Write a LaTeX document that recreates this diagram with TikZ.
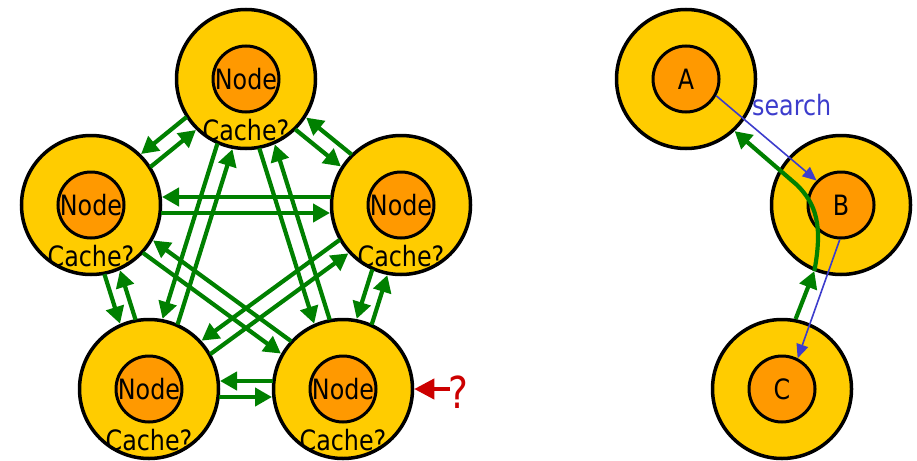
\documentclass[tikz,border=0pt]{standalone}
\usepackage{fontspec}
\setmainfont{DejaVu Sans}[FakeStretch=0.85]
\usetikzlibrary{arrows.meta,calc}
\definecolor{ringY}{RGB}{255,204,0}
\definecolor{coreO}{RGB}{255,153,0}
\definecolor{gArr}{RGB}{0,128,0}
\definecolor{bArr}{RGB}{60,60,204}
\definecolor{rArr}{RGB}{204,0,0}
\tikzset{
  outerring/.style={circle, draw=black, line width=3.5pt, fill=ringY, minimum size=139pt, inner sep=0pt},
  innercore/.style={circle, draw=black, line width=3pt, fill=coreO, minimum size=66pt, inner sep=0pt},
  lbl/.style={font=\fontsize{28}{32}\selectfont, inner sep=0pt},
  garrow/.style={line width=4.2pt, draw=gArr, -{Triangle[length=17pt,width=18pt]}},
  gpairarrow/.style={garrow, shorten <=70pt, shorten >=71pt},
  barrow/.style={line width=1.6pt, draw=bArr, -{Triangle[length=14pt,width=12pt]}},
  rarrow/.style={line width=4pt, draw=rArr, -{Triangle[length=20pt,width=20pt]}}
}
\newcommand\gpair[2]{%
  \draw[gpairarrow] ($(#1.center)!8pt!-90:(#2.center)$) -- ($(#2.center)!8pt!90:(#1.center)$);
  \draw[gpairarrow] ($(#2.center)!8pt!-90:(#1.center)$) -- ($(#1.center)!8pt!90:(#2.center)$);
}
\begin{document}
\begin{tikzpicture}[x=1pt,y=-1pt]
\useasboundingbox (0,0) rectangle (917,460);
% left cluster
\foreach \n/\x/\y in {T/246/79, L/91/205, R/401/205, BL/149/389, BR/343/389}{
  \node[outerring] (\n) at (\x,\y) {};
  \node[innercore] (\n i) at (\x,\y) {};
  \node[lbl] (\n t) at (\x,\y) {Node};
  \node[lbl, anchor=base] (\n c) at (\x,\y+61) {Cache?};
}
\gpair{T}{L}
\gpair{T}{R}
\gpair{L}{R}
\gpair{T}{BL}
\gpair{T}{BR}
\gpair{L}{BL}
\gpair{L}{BR}
\gpair{R}{BL}
\gpair{R}{BR}
\gpair{BL}{BR}
% red question
\node[lbl, font=\fontsize{44}{48}\selectfont, text=rArr, anchor=base west] (qm) at (448,408) {?};
\coordinate (rq) at (450,389);
\draw[rarrow] (rq) -- (BR);
% right cluster
\foreach \n/\x/\y/\t in {A/686/79/A, B/841/205/B, C/782/389/C}{
  \node[outerring] (\n) at (\x,\y) {};
  \node[innercore, font=\fontsize{28}{32}\selectfont] (\n i) at (\x,\y) {\t};
}
\node[lbl, text=bArr, anchor=base west] (srch) at (752,115) {search};
\draw[barrow] (Ai.-29) -- (Bi.135);
\draw[barrow] (Bi.-92) -- (Ci.63);
\draw[garrow] (C.79) -- (B.248);
\draw[garrow] (B.248) .. controls (823,225) and (816,204) .. (797,185) -- (A.-47);
\end{tikzpicture}
\end{document}
